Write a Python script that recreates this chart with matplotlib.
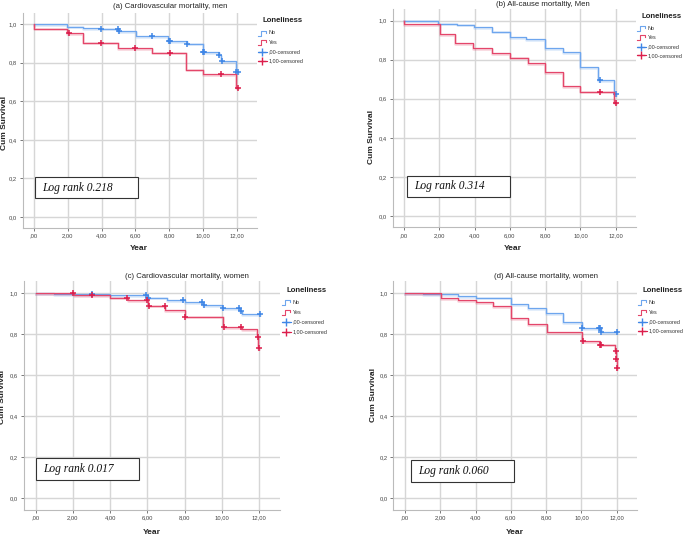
import matplotlib
matplotlib.use("Agg")
import matplotlib.pyplot as plt
import numpy as np
from matplotlib.patches import Rectangle

# === DATA ===
TITLES = ["(a) Cardiovascular mortality, men", "(b) All-cause mortaltiy, Men",
          "(c) Cardiovascular mortality, women", "(d) All-cause mortality, women"]
LOG_RANK = ["Log rank 0.218", "Log rank 0.314", "Log rank 0.017", "Log rank 0.060"]
X_TICKS = [0, 2, 4, 6, 8, 10, 12]
X_TICK_LABELS = [",00", "2,00", "4,00", "6,00", "8,00", "10,00", "12,00"]
Y_TICKS = [0.0, 0.2, 0.4, 0.6, 0.8, 1.0]
Y_TICK_LABELS = ["0,0", "0,2", "0,4", "0,6", "0,8", "1,0"]
LEGEND_LABELS = ["No", "Yes", ",00-censored", "1,00-censored"]

# (a) cardiovascular, men
a_no_t = [1.97, 2.92, 3.94, 4.99, 6.04, 7.9, 9.03, 9.96, 10.95, 11.05, 11.95]
a_no_s = [0.988, 0.981, 0.977, 0.965, 0.94, 0.913, 0.9, 0.855, 0.84, 0.81, 0.753]
a_no_c = [3.94, 4.95, 5.02, 6.96, 7.98, 8.05, 9.03, 9.96, 10.05, 10.95, 11.08, 11.95, 12.02]
a_yes_t = [0.03, 1.99, 2.88, 4.95, 7.0, 9.0, 9.96, 11.9]
a_yes_s = [0.977, 0.952, 0.905, 0.878, 0.853, 0.765, 0.74, 0.671]
a_yes_c = [2.09, 3.94, 5.98, 8.05, 11.06, 12.02]

# (b) all-cause, men
b_no_t = [1.95, 3.0, 3.98, 4.99, 6.03, 6.94, 7.98, 9.0, 10.0, 11.0, 11.9]
b_no_s = [0.984, 0.979, 0.968, 0.943, 0.916, 0.905, 0.858, 0.837, 0.761, 0.696, 0.622]
b_no_c = [11.1, 12.04]
b_yes_t = [0.03, 2.05, 2.9, 3.94, 4.99, 5.99, 7.03, 8.02, 9.02, 10.0, 11.9]
b_yes_s = [0.981, 0.929, 0.883, 0.858, 0.832, 0.81, 0.784, 0.735, 0.665, 0.636, 0.58]
b_yes_c = [11.1, 12.04]

# (c) cardiovascular, women
c_no_t = [1.0, 4.0, 6.05, 7.06, 8.0, 9.0, 10.0, 11.0, 11.1]
c_no_s = [0.997, 0.992, 0.979, 0.967, 0.956, 0.943, 0.927, 0.914, 0.898]
c_no_c = [3.03, 5.95, 6.05, 7.9, 8.95, 9.05, 10.05, 10.95, 11.05, 12.04]
c_yes_t = [2.05, 4.0, 4.95, 6.05, 6.97, 8.03, 10.05, 11.1, 11.9, 11.97]
c_yes_s = [0.992, 0.979, 0.967, 0.94, 0.919, 0.886, 0.837, 0.824, 0.789, 0.732]
c_yes_c = [2.0, 3.0, 4.9, 6.0, 6.07, 6.95, 8.05, 10.1, 11.05, 11.95, 12.02]

# (d) all-cause, women
d_no_t = [1.0, 3.02, 4.0, 6.0, 7.0, 8.0, 8.98, 10.02, 11.1]
d_no_s = [0.995, 0.987, 0.979, 0.948, 0.926, 0.905, 0.858, 0.832, 0.812]
d_no_c = [10.05, 11.0, 11.05, 11.12, 12.04]
d_yes_t = [2.02, 3.0, 4.0, 5.0, 6.0, 7.0, 8.03, 10.02, 11.05, 11.93, 11.96, 11.99]
d_yes_s = [0.975, 0.967, 0.956, 0.938, 0.881, 0.848, 0.812, 0.766, 0.75, 0.717, 0.681, 0.635]
d_yes_c = [10.1, 11.05, 11.1, 11.95, 11.98, 12.02]

PANELS = [
    (a_no_t, a_no_s, a_no_c, a_yes_t, a_yes_s, a_yes_c),
    (b_no_t, b_no_s, b_no_c, b_yes_t, b_yes_s, b_yes_c),
    (c_no_t, c_no_s, c_no_c, c_yes_t, c_yes_s, c_yes_c),
    (d_no_t, d_no_s, d_no_c, d_yes_t, d_yes_s, d_yes_c),
]

# === LAYOUT (pixels in a 685x536 canvas) ===
W, H = 685, 536
C_NO, C_NO_DARK = "#6ea6ee", "#3f86e6"
C_YES, C_YES_DARK = "#e4466a", "#dc1e4c"
GRID = "#d6d6d6"

# axes boxes: left, right, top, bottom
AX_BOX = [(22.7, 256.7, 12.7, 228.0), (392.5, 636.0, 8.8, 227.3),
          (23.6, 280.4, 281.0, 510.2), (393.5, 637.0, 281.0, 510.2)]
TITLE_POS = [(170, 7), (542.7, 4), (186.7, 276), (545.7, 276)]
YLAB_POS = [(5, 123), (372, 137), (3, 397), (374, 395)]
XLAB_POS = [(139, 248), (513, 248), (151.7, 533), (515, 533)]
BOX_POS = [(35, 138, 177, 198), (406.7, 510.3, 175.7, 197),
           (36, 139.3, 457.7, 479.7), (411, 514.3, 460.3, 482)]
LEG_POS = [(258, 21), (637, 16.7), (282, 290.7), (638, 290.7)]
LEG_STEP = [9.3, 8.9, 9.7, 9.4]

plt.rcParams['font.family'] = ['Liberation Sans', 'DejaVu Sans']

fig = plt.figure(figsize=(W / 100, H / 100), dpi=100)
fig.patch.set_facecolor('white')


def step_xy(t, s, cens):
    end = max(cens) if cens else t[-1]
    x = [0.0] + list(t) + [end]
    y = [1.0] + list(s) + [s[-1]]
    return x, y


def surv_at(t, s, c):
    idx = np.searchsorted(np.array(t), np.array(c), side='right')
    vals = np.concatenate([[1.0], np.array(s)])
    return vals[idx]


for i, (no_t, no_s, no_c, yes_t, yes_s, yes_c) in enumerate(PANELS):
    l, r, tp, bt = AX_BOX[i]
    ax = fig.add_axes([l / W, 1 - bt / H, (r - l) / W, (bt - tp) / H])
    ax.set_xlim(-0.65, 13.15)
    ax.set_ylim(-0.058, 1.06)
    ax.set_xticks(X_TICKS)
    ax.set_xticklabels(X_TICK_LABELS)
    ax.set_yticks(Y_TICKS)
    ax.set_yticklabels(Y_TICK_LABELS)
    ax.tick_params(labelsize=4.2, colors='#444444', length=2, width=0.5, pad=2)
    ax.grid(True, color=GRID, linewidth=1.0)
    ax.set_axisbelow(True)
    for side in ['top', 'right']:
        ax.spines[side].set_visible(False)
    for side in ['left', 'bottom']:
        ax.spines[side].set_color('#bbbbbb')
        ax.spines[side].set_linewidth(0.8)

    for t, s, c, col, dark in [(no_t, no_s, no_c, C_NO, C_NO_DARK),
                               (yes_t, yes_s, yes_c, C_YES, C_YES_DARK)]:
        x, y = step_xy(t, s, c)
        ax.step(x, np.array(y) - 0.004, where='post', color=col, lw=1.8, alpha=0.25)
        ax.step(x, y, where='post', color=col, lw=0.9)
        ax.plot(c, surv_at(t, s, c), linestyle='none', marker='+', ms=4.5,
                mew=1.1, color=dark)

# overlay in pixel coordinates for texts, boxes and legends
ov = fig.add_axes([0, 0, 1, 1], zorder=10)
ov.set_xlim(0, W)
ov.set_ylim(H, 0)
ov.axis('off')
ov.patch.set_alpha(0)

for i in range(4):
    tx, ty = TITLE_POS[i]
    ov.text(tx, ty, TITLES[i], fontsize=5.6, ha='center', va='center', color='#222222')
    yx, yy = YLAB_POS[i]
    ov.text(yx, yy, "Cum Survival", fontsize=6, fontweight='bold', rotation=90,
            ha='center', va='center', color='#222222')
    xx, xy = XLAB_POS[i]
    ov.text(xx, xy, "Year", fontsize=6, fontweight='bold', ha='center', va='center',
            color='#222222')

    bl, br, btp, bbt = BOX_POS[i]
    ov.add_patch(Rectangle((bl, btp), br - bl, bbt - btp, facecolor='white',
                           edgecolor='#333333', linewidth=0.8))
    ov.text(bl + 7, (btp + bbt) / 2, LOG_RANK[i], fontsize=8.3, style='italic',
            family='Liberation Serif', ha='left', va='center', color='#111111')

    lx, ly = LEG_POS[i]
    st = LEG_STEP[i]
    ov.text(lx + 5, ly, "Loneliness", fontsize=5.6, fontweight='bold',
            ha='left', va='center', color='#222222')
    for k, lab in enumerate(LEGEND_LABELS):
        yk = ly + 12 + k * st
        if k < 2:
            col = C_NO if k == 0 else C_YES
            ov.plot([lx, lx + 3, lx + 3, lx + 8, lx + 8],
                    [yk + 2.5, yk + 2.5, yk - 2.5, yk - 2.5, yk - 0.5],
                    color=col, lw=0.8)
        else:
            col = C_NO_DARK if k == 2 else C_YES_DARK
            ov.plot([lx, lx + 9], [yk, yk], color=col, lw=0.8)
            ov.plot([lx + 4], [yk], marker='+', ms=6, mew=1.0, color=col)
        ov.text(lx + 11, yk, lab, fontsize=3.9, ha='left', va='center', color='#333333')

plt.savefig("out.png", dpi=100, facecolor='white')
